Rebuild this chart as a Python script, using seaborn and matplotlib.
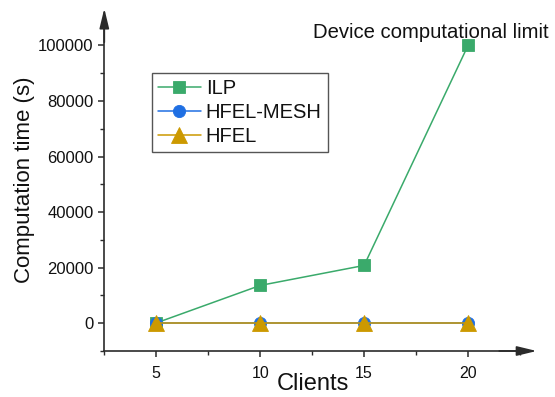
import matplotlib
matplotlib.use("Agg")
import matplotlib.pyplot as plt
from matplotlib.patches import FancyArrowPatch
from matplotlib.ticker import MultipleLocator, FixedLocator, FormatStrFormatter
import seaborn as sns
import pandas as pd

# ---- data ----
clients = [5, 10, 15, 20]
ilp = [100, 13600, 20800, 100000]
hfel_mesh = [0, 0, 0, 0]
hfel = [0, 0, 0, 0]
series_names = ["ILP", "HFEL-MESH", "HFEL"]
x_ticks = [5, 10, 15, 20]
y_ticks = [0, 20000, 40000, 60000, 80000, 100000]
annotation_text = "Device computational limit"

sns.set_style("ticks")
plt.rcParams["font.family"] = ["Liberation Sans", "DejaVu Sans"]

fig = plt.figure(figsize=(5.55, 3.97), dpi=100)
ax = fig.add_axes([104.3 / 555, 1 - 351 / 397, (520 - 104.3) / 555, (351 - 26) / 397])

styles = {
    "ILP": dict(color="#3AAA6B", marker="s", markersize=8.3, zorder=2),
    "HFEL-MESH": dict(color="#1F6FE3", marker="o", markersize=8.8, zorder=3),
    "HFEL": dict(color="#CC9900", marker="^", markersize=11, zorder=4),
}
values = {"ILP": ilp, "HFEL-MESH": hfel_mesh, "HFEL": hfel}

for name in series_names:
    df = pd.DataFrame({"Clients": clients, "Time": values[name]})
    st = styles[name]
    sns.lineplot(data=df, x="Clients", y="Time", ax=ax, color=st["color"],
                 marker=st["marker"], markersize=st["markersize"],
                 markeredgecolor=st["color"], markeredgewidth=0.6,
                 linewidth=1.1, label=name, zorder=st["zorder"])

ax.set_xlim(2.5, 22.5)
ax.set_ylim(-10000, 107000)
ax.xaxis.set_major_locator(FixedLocator(x_ticks))
ax.xaxis.set_minor_locator(MultipleLocator(2.5))
ax.yaxis.set_major_locator(FixedLocator(y_ticks))
ax.yaxis.set_minor_locator(MultipleLocator(10000))
ax.yaxis.set_major_formatter(FormatStrFormatter("%d"))

spine_c = "#2b2b2b"
for s in ["top", "right"]:
    ax.spines[s].set_visible(False)
for s in ["left", "bottom"]:
    ax.spines[s].set_color(spine_c)
    ax.spines[s].set_linewidth(1.2)

ax.tick_params(axis="both", which="major", direction="out", length=4.2, width=1.1, color=spine_c)
ax.tick_params(axis="both", which="minor", direction="out", length=2.6, width=1.0, color=spine_c)
ax.tick_params(axis="y", which="major", labelsize=12, pad=3.5, labelcolor="#111111")
ax.tick_params(axis="x", which="major", labelsize=11.5, pad=6.5, labelcolor="#111111")

ax.set_xlabel("Clients", fontsize=17, color="#111111")
ax.set_ylabel("Computation time (s)", fontsize=16, color="#111111")
ax.xaxis.set_label_coords((312.7 - 104.3) / 415.7, (351 - 373) / 325)
ax.yaxis.set_label_coords((35 - 104.3) / 415.7, (351 - 180) / 325)
ax.xaxis.label.set_va("top")

# axis arrows
arr_kw = dict(arrowstyle="-|>,head_length=12,head_width=2.9", mutation_scale=1,
              color=spine_c, linewidth=1.2, shrinkA=0, shrinkB=0,
              transform=ax.transAxes, clip_on=False)
ax.add_patch(FancyArrowPatch((0, 0.95), (0, 1 + 17.5 / 325), **arr_kw))
ax.add_patch(FancyArrowPatch((0.95, 0), (1 + 16.7 / 415.7, 0), **arr_kw))

ax.text(18.19, 104780, annotation_text, fontsize=14.6, ha="center", va="center",
        color="#111111")

leg = ax.legend(loc="upper left", bbox_to_anchor=((152.3 - 104.3) / 415.7, (351 - 72.7) / 325),
                borderaxespad=0, fontsize=14.5, frameon=True, fancybox=False,
                handlelength=2.1, handletextpad=0.25, labelspacing=0.25,
                borderpad=0.3)
leg.get_frame().set_edgecolor("#555555")
leg.get_frame().set_linewidth(1.0)
leg.get_frame().set_alpha(1)
for t in leg.get_texts():
    t.set_color("#111111")

fig.savefig("out.png", dpi=100)
